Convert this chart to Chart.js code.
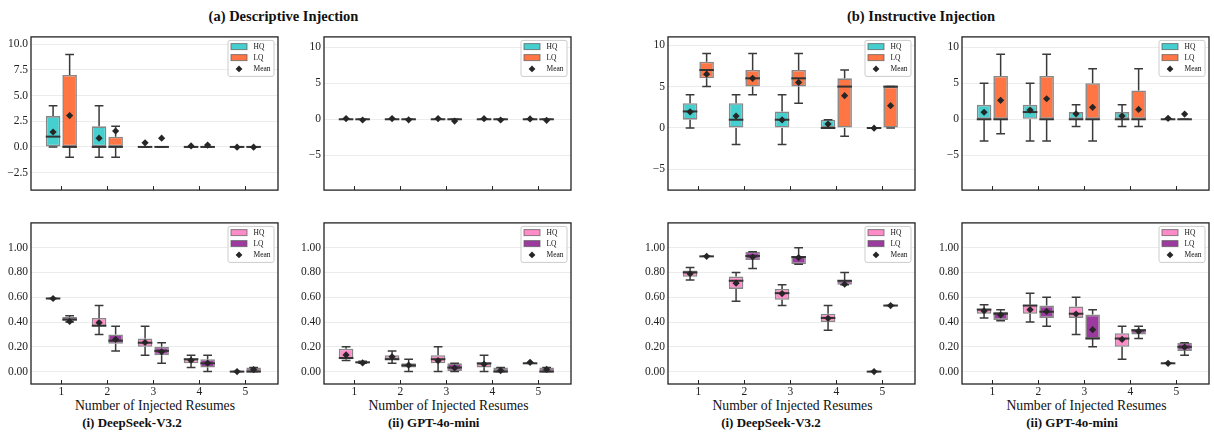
<!DOCTYPE html>
<html><head><meta charset="utf-8">
<script src="https://cdn.jsdelivr.net/npm/chart.js@4.4.1/dist/chart.umd.min.js"></script>
<style>
html,body{margin:0;padding:0;background:#fff;}
#wrap{position:relative;width:1214px;height:435px;overflow:hidden;font-family:'Liberation Serif','Times New Roman',serif;color:#111;}
.cv{position:absolute;}
.t{position:absolute;white-space:nowrap;transform:translate(-50%,-50%);line-height:1;}
.h{font-weight:bold;font-size:14.5px;}
.s{font-weight:bold;font-size:13px;}
.x{font-size:13.7px;}
</style></head><body><div id="wrap"></div>
<script>
// ---------------- DATA ----------------
const categories = [1, 2, 3, 4, 5];
const seriesNames = ['HQ', 'LQ', 'Mean'];
const xTitle = 'Number of Injected Resumes';
const groupTitles = ['(a) Descriptive Injection', '(b) Instructive Injection'];
const modelTitles = ['(i) DeepSeek-V3.2', '(ii) GPT-4o-mini'];

// box stats: [min, q1, median, q3, max]
// (a) Descriptive, DeepSeek-V3.2, score
const descDsScoreHQ = [[0,0,1,3,4],[-1,0,0,2,4],[0,0,0,0,0],[0,0,0,0,0],[0,0,0,0,0]];
const descDsScoreLQ = [[-1,0,0,7,9],[-1,0,0,1,2],[0,0,0,0,0],[0,0,0,0,0],[0,0,0,0,0]];
const descDsScoreHQMean = [1.45, 0.85, 0.40, 0.10, -0.03];
const descDsScoreLQMean = [3.05, 1.55, 0.85, 0.18, -0.03];
// (a) Descriptive, GPT-4o-mini, score
const descGptScoreHQ = [[0,0,0,0,0],[0,0,0,0,0],[0,0,0,0,0],[0,0,0,0,0],[0,0,0,0,0]];
const descGptScoreLQ = [[0,0,0,0,0],[0,0,0,0,0],[0,0,0,0,0],[0,0,0,0,0],[0,0,0,0,0]];
const descGptScoreHQMean = [0.10, 0.10, 0.10, 0.08, 0.05];
const descGptScoreLQMean = [-0.10, -0.08, -0.25, -0.10, -0.15];
// (b) Instructive, DeepSeek-V3.2, score
const instDsScoreHQ = [[0,1,2,3,4],[-2,0,1,3,4],[-2,0,1,2,4],[0,0,0,1,1],[0,0,0,0,0]];
const instDsScoreLQ = [[5,6,7,8,9],[4,5,6,7,9],[3,5,6,7,9],[-1,0,5,6,7],[0,0,5,5,5]];
const instDsScoreHQMean = [1.95, 1.45, 0.97, 0.47, -0.02];
const instDsScoreLQMean = [6.5, 6.0, 5.5, 3.9, 2.7];
// (b) Instructive, GPT-4o-mini, score
const instGptScoreHQ = [[-3,0,0,2,5],[-3,0,1,2,5],[-1,0,0,1,2],[-1,0,0,1,2],[0,0,0,0,0]];
const instGptScoreLQ = [[-2,0,0,6,9],[-3,0,0,6,9],[-3,0,0,5,7],[-1,0,0,4,7],[0,0,0,0,0]];
const instGptScoreHQMean = [0.97, 1.27, 0.76, 0.47, 0.13];
const instGptScoreLQMean = [2.63, 2.84, 1.65, 1.36, 0.72];
// (a) Descriptive, DeepSeek-V3.2, rate
const descDsRateHQ = [[0.59,0.59,0.59,0.59,0.59],[0.30,0.367,0.37,0.433,0.533],[0.133,0.20,0.233,0.267,0.367],[0.033,0.067,0.10,0.10,0.133],[0,0,0,0,0]];
const descDsRateLQ = [[0.40,0.41,0.42,0.44,0.45],[0.167,0.225,0.25,0.30,0.367],[0.067,0.133,0.167,0.20,0.233],[0,0.033,0.067,0.10,0.133],[0,0,0,0.033,0.033]];
const descDsRateHQMean = [0.59, 0.395, 0.235, 0.09, 0.0];
const descDsRateLQMean = [0.405, 0.26, 0.16, 0.068, 0.016];
// (a) Descriptive, GPT-4o-mini, rate
const descGptRateHQ = [[0.09,0.10,0.11,0.185,0.20],[0.067,0.10,0.10,0.133,0.167],[0,0.067,0.10,0.133,0.20],[0,0.033,0.067,0.067,0.133],[0.067,0.067,0.067,0.067,0.067]];
const descGptRateLQ = [[0.067,0.067,0.075,0.08,0.083],[0,0.033,0.05,0.067,0.10],[0,0,0.033,0.067,0.067],[0,0,0,0.033,0.033],[0,0,0,0.033,0.033]];
const descGptRateHQMean = [0.135, 0.12, 0.088, 0.06, 0.075];
const descGptRateLQMean = [0.07, 0.052, 0.03, 0.008, 0.018];
// (b) Instructive, DeepSeek-V3.2, rate
const instDsRateHQ = [[0.74,0.765,0.80,0.815,0.84],[0.567,0.667,0.733,0.767,0.80],[0.533,0.58,0.633,0.667,0.70],[0.333,0.40,0.433,0.467,0.533],[0,0,0,0,0]];
const instDsRateLQ = [[0.93,0.93,0.93,0.93,0.93],[0.833,0.90,0.933,0.967,0.967],[0.867,0.867,0.925,0.933,1.0],[0.70,0.70,0.733,0.733,0.80],[0.533,0.533,0.533,0.533,0.533]];
const instDsRateHQMean = [0.79, 0.714, 0.63, 0.43, 0.0];
const instDsRateLQMean = [0.93, 0.925, 0.92, 0.705, 0.533];
// (b) Instructive, GPT-4o-mini, rate
const instGptRateHQ = [[0.433,0.467,0.50,0.51,0.54],[0.40,0.467,0.533,0.54,0.633],[0.30,0.433,0.467,0.525,0.60],[0.10,0.20,0.267,0.31,0.367],[0.067,0.067,0.067,0.067,0.067]];
const instGptRateLQ = [[0.41,0.417,0.467,0.483,0.50],[0.367,0.433,0.483,0.533,0.60],[0.20,0.267,0.267,0.46,0.50],[0.267,0.30,0.333,0.343,0.367],[0.133,0.167,0.20,0.233,0.233]];
const instGptRateHQMean = [0.49, 0.50, 0.465, 0.26, 0.067];
const instGptRateLQMean = [0.457, 0.486, 0.338, 0.325, 0.197];

// tick labels
const descDsScoreTicks = [-2.5, 0, 2.5, 5, 7.5, 10];
const scoreTicks = [-5, 0, 5, 10];
const rateTicks = [0, 0.2, 0.4, 0.6, 0.8, 1.0];

// ---------------- LAYOUT / STYLE ----------------
const OFF = 0.18;
const TEAL = '#45CFCF', ORANGE = '#FF7543', PINK = '#FF8CC8', PURPLE = '#9C3A9F';
const EDGE = 'rgba(95,95,95,0.75)', DARK = '#333333', MEANC = '#262626';
const FONT = "'Liberation Serif','Times New Roman',serif";
const cols = [[31,280],[324,573],[668,917],[962,1211]];
const rows = [[31,197],[217,384]];
const YW = 30, PT = 4, PR = 2;

const panels = [
  {c:0,r:0,hq:descDsScoreHQ,lq:descDsScoreLQ,hm:descDsScoreHQMean,lm:descDsScoreLQMean,min:-4.2,max:10.7,ticks:descDsScoreTicks,dec:1,col:[TEAL,ORANGE]},
  {c:1,r:0,hq:descGptScoreHQ,lq:descGptScoreLQ,hm:descGptScoreHQMean,lm:descGptScoreLQMean,min:-9.8,max:11.4,ticks:scoreTicks,dec:0,col:[TEAL,ORANGE]},
  {c:2,r:0,hq:instDsScoreHQ,lq:instDsScoreLQ,hm:instDsScoreHQMean,lm:instDsScoreLQMean,min:-7.5,max:11.0,ticks:scoreTicks,dec:0,col:[TEAL,ORANGE]},
  {c:3,r:0,hq:instGptScoreHQ,lq:instGptScoreLQ,hm:instGptScoreHQMean,lm:instGptScoreLQMean,min:-9.8,max:11.4,ticks:scoreTicks,dec:0,col:[TEAL,ORANGE]},
  {c:0,r:1,hq:descDsRateHQ,lq:descDsRateLQ,hm:descDsRateHQMean,lm:descDsRateLQMean,min:-0.1,max:1.2,ticks:rateTicks,dec:2,col:[PINK,PURPLE]},
  {c:1,r:1,hq:descGptRateHQ,lq:descGptRateLQ,hm:descGptRateHQMean,lm:descGptRateLQMean,min:-0.1,max:1.2,ticks:rateTicks,dec:2,col:[PINK,PURPLE]},
  {c:2,r:1,hq:instDsRateHQ,lq:instDsRateLQ,hm:instDsRateHQMean,lm:instDsRateLQMean,min:-0.1,max:1.2,ticks:rateTicks,dec:2,col:[PINK,PURPLE]},
  {c:3,r:1,hq:instGptRateHQ,lq:instGptRateLQ,hm:instGptRateHQMean,lm:instGptRateLQMean,min:-0.1,max:1.2,ticks:rateTicks,dec:2,col:[PINK,PURPLE]},
];

const wrap = document.getElementById('wrap');
function addText(txt, cls, x, y){
  const d = document.createElement('div'); d.className = 't ' + cls; d.textContent = txt;
  d.style.left = x + 'px'; d.style.top = y + 'px'; wrap.appendChild(d);
}
addText(groupTitles[0], 'h', 283.5, 16);
addText(groupTitles[1], 'h', 921, 16);
[155, 448.5, 792.5, 1086.5].forEach(x => addText(xTitle, 'x', x, 405.7));
addText(modelTitles[0], 's', 132, 422);
addText(modelTitles[1], 's', 433.7, 422);
addText(modelTitles[0], 's', 771, 422);
addText(modelTitles[1], 's', 1072, 422);

const fmt = (v, d) => v.toFixed(d).replace('-', '\u2212');

const boxPlugin = {
  id: 'boxParts',
  afterDatasetDraw(chart, args) {
    const ds = chart.data.datasets[args.index];
    if (!ds.stats) return;
    const ctx = chart.ctx, ys = chart.scales.y;
    ctx.save();
    args.meta.data.forEach((el, i) => {
      const s = ds.stats[i], x = el.x, w = el.width, cw = w * 0.6;
      const p = s.map(v => ys.getPixelForValue(v));
      ctx.strokeStyle = '#3a3a3a'; ctx.lineWidth = 1.5; ctx.lineCap = 'butt';
      ctx.beginPath();
      ctx.moveTo(x, p[3]); ctx.lineTo(x, p[4]);
      ctx.moveTo(x, p[1]); ctx.lineTo(x, p[0]);
      ctx.moveTo(x - cw/2, p[4]); ctx.lineTo(x + cw/2, p[4]);
      ctx.moveTo(x - cw/2, p[0]); ctx.lineTo(x + cw/2, p[0]);
      ctx.stroke();
      ctx.strokeStyle = DARK; ctx.lineWidth = 2;
      ctx.beginPath(); ctx.moveTo(x - w/2, p[2]); ctx.lineTo(x + w/2, p[2]); ctx.stroke();
    });
    ctx.restore();
  },
  afterDraw(chart) {
    const ctx = chart.ctx, a = chart.chartArea, xs = chart.scales.x;
    ctx.save();
    // inward x ticks
    ctx.strokeStyle = '#222'; ctx.lineWidth = 1;
    ctx.beginPath();
    categories.forEach(c => { const x = Math.round(xs.getPixelForValue(c)) + 0.5; ctx.moveTo(x, a.bottom); ctx.lineTo(x, a.bottom - 4); });
    ctx.stroke();
    // frame
    ctx.strokeStyle = '#222'; ctx.lineWidth = 1.3;
    ctx.strokeRect(a.left, a.top, a.right - a.left, a.bottom - a.top);
    // legend
    const cols2 = chart.options.plugins.boxParts.colors;
    const bw = 46, bh = 36, bx = a.right - 4.5 - bw, by = a.top + 3;
    ctx.fillStyle = 'rgba(255,255,255,0.85)'; ctx.strokeStyle = '#cccccc'; ctx.lineWidth = 1;
    ctx.beginPath(); ctx.roundRect(bx + 0.5, by + 0.5, bw, bh, 2); ctx.fill(); ctx.stroke();
    const rowsY = [6.7, 17.7, 29];
    ctx.font = '7.5px ' + FONT; ctx.textBaseline = 'middle'; ctx.textAlign = 'left';
    for (let k = 0; k < 2; k++) {
      ctx.fillStyle = cols2[k]; ctx.fillRect(bx + 3.5, by + rowsY[k] - 3, 16, 6);
      ctx.strokeStyle = EDGE; ctx.lineWidth = 1; ctx.strokeRect(bx + 3.5, by + rowsY[k] - 3, 16, 6);
    }
    const dx = bx + 11.5, dy = by + rowsY[2], r = 3.4;
    ctx.fillStyle = MEANC; ctx.beginPath();
    ctx.moveTo(dx, dy - r); ctx.lineTo(dx + r, dy); ctx.lineTo(dx, dy + r); ctx.lineTo(dx - r, dy); ctx.closePath(); ctx.fill();
    ctx.fillStyle = '#111';
    seriesNames.forEach((n, k) => ctx.fillText(n, bx + 26, by + rowsY[k] + 0.5));
    ctx.restore();
  }
};

panels.forEach(p => {
  const [L, R] = cols[p.c], [T, B] = rows[p.r];
  const bottomRow = p.r === 1;
  const XH = bottomRow ? 18 : 0, PB = bottomRow ? 0 : 3;
  const W = YW + (R - L) + PR, H = PT + (B - T) + XH + PB;
  const cv = document.createElement('canvas');
  cv.className = 'cv'; cv.width = W; cv.height = H;
  cv.style.left = (L - YW) + 'px'; cv.style.top = (T - PT) + 'px';
  cv.style.width = W + 'px'; cv.style.height = H + 'px';
  wrap.appendChild(cv);
  const mk = (arr, sgn) => categories.map((c, i) => ({x: c + sgn * OFF, y: [arr[i][1], arr[i][3]]}));
  const mm = (arr, sgn) => categories.map((c, i) => ({x: c + sgn * OFF, y: arr[i]}));
  new Chart(cv, {
    type: 'bar',
    data: { datasets: [
      {type:'scatter', label:'HQ mean', data: mm(p.hm, -1), pointStyle:'rectRot', pointRadius:3.6, backgroundColor:MEANC, borderWidth:0, order:0},
      {type:'scatter', label:'LQ mean', data: mm(p.lm, 1), pointStyle:'rectRot', pointRadius:3.6, backgroundColor:MEANC, borderWidth:0, order:0},
      {type:'bar', label:'HQ', data: mk(p.hq, -1), stats: p.hq, backgroundColor:p.col[0], borderColor:EDGE, borderWidth:1.6, borderSkipped:false, grouped:false, barPercentage:0.88, categoryPercentage:1, order:2},
      {type:'bar', label:'LQ', data: mk(p.lq, 1), stats: p.lq, backgroundColor:p.col[1], borderColor:EDGE, borderWidth:1.6, borderSkipped:false, grouped:false, barPercentage:0.88, categoryPercentage:1, order:1},
    ]},
    options: {
      responsive:false, animation:false,
      layout:{padding:{left:0, top:PT, right:PR, bottom:PB}},
      plugins:{legend:{display:false}, tooltip:{enabled:false}, boxParts:{colors:p.col}},
      scales:{
        x:{type:'linear', min:0.34, max:5.71, offset:false, grid:{display:false, drawTicks:false}, border:{display:false},
           afterBuildTicks: s => { s.ticks = categories.map(v => ({value:v})); },
           afterFit: s => { s.height = XH; },
           ticks:{display:bottomRow, padding:1, maxRotation:0, minRotation:0, autoSkip:false, color:'#222', font:{family:FONT, size:11.5}, callback: v => String(v)}},
        y:{type:'linear', min:p.min, max:p.max, border:{display:false},
           grid:{color:'#ececec', lineWidth:1, drawTicks:false},
           afterBuildTicks: s => { s.ticks = p.ticks.map(v => ({value:v})); },
           afterFit: s => { s.width = YW; },
           ticks:{padding:3, color:'#222', font:{family:FONT, size:11.5}, callback: v => fmt(v, p.dec)}}
      }
    },
    plugins:[boxPlugin]
  });
});
</script></body></html>
